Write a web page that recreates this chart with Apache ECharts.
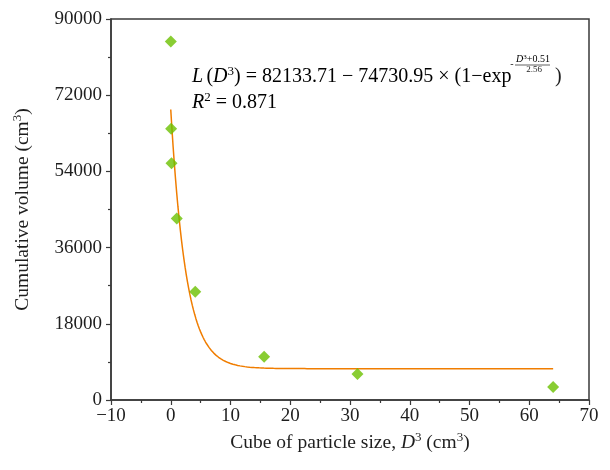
<!DOCTYPE html>
<html>
<head>
<meta charset="utf-8">
<script src="https://cdn.jsdelivr.net/npm/echarts@6/dist/echarts.min.js"></script>
<style>
  html, body { margin: 0; padding: 0; background: #fff; }
  #chart { width: 610px; height: 470px; }
</style>
</head>
<body>
<div id="chart"></div>
<script>
// Measured samples: cube of particle size (cm^3) vs cumulative volume (cm^3)
var cubeSize = [0.008, 0.064, 0.125, 1.0, 4.1, 15.625, 31.25, 64.0];
var cumVolume = [84700, 64100, 55900, 42900, 25600, 10200, 6150, 3050];

// Exponential fit parameters: L = a - b * (1 - exp(-(x + c) / t))
var fitA = 82133.71;
var fitB = 74730.95;
var fitC = 0.51;
var fitT = 2.56;
var fitRange = [0, 64];
var fitStep = 0.2;

// Axis ticks
var xTicks = { min: -10, max: 70, interval: 10 };
var yTicks = { min: 0, max: 90000, interval: 18000 };

var FONT = '"Liberation Serif", "Times New Roman", serif';
var AXIS_COLOR = '#3a3a3a';
var TEXT = '#1e1e1e';

var scatterData = cubeSize.map(function (x, i) { return [x, cumVolume[i]]; });

var fitData = [];
for (var x = fitRange[0]; x <= fitRange[1] + 1e-9; x += fitStep) {
  fitData.push([x, fitA - fitB * (1 - Math.exp(-(x + fitC) / fitT))]);
}

function richSet(size) {
  return {
    n: { fontFamily: FONT, fontSize: size, color: TEXT },
    i: { fontFamily: FONT, fontSize: size, color: TEXT, fontStyle: 'italic' },
    s: { fontFamily: FONT, fontSize: Math.round(size * 0.65), color: TEXT, padding: [0, 0, Math.round(size * 0.5), 0] }
  };
}

var chart = echarts.init(document.getElementById('chart'), null, { renderer: 'canvas' });

chart.setOption({
  animation: false,
  grid: {
    left: 111, right: 21, top: 19, bottom: 70,
    show: true, borderColor: AXIS_COLOR, borderWidth: 1.5
  },
  xAxis: {
    type: 'value',
    min: xTicks.min, max: xTicks.max, interval: xTicks.interval,
    axisLine: { onZero: false, lineStyle: { color: AXIS_COLOR, width: 1.5 } },
    axisTick: { length: 5, lineStyle: { color: AXIS_COLOR, width: 1.2 } },
    minorTick: { show: true, splitNumber: 2, length: 3, lineStyle: { color: AXIS_COLOR, width: 1.2 } },
    splitLine: { show: false },
    axisLabel: {
      fontFamily: FONT, fontSize: 19, color: TEXT, margin: 7,
      formatter: function (v) { return v < 0 ? '\u2212' + Math.abs(v) : String(v); }
    },
    name: '{n|Cube of particle size, }{i|D}{s|3}{n| (cm}{s|3}{n|)}',
    nameLocation: 'middle',
    nameGap: 27,
    nameTextStyle: { rich: richSet(19.5) }
  },
  yAxis: {
    type: 'value',
    min: yTicks.min, max: yTicks.max, interval: yTicks.interval,
    axisLine: { show: true, onZero: false, lineStyle: { color: AXIS_COLOR, width: 1.5 } },
    axisTick: { show: true, length: 5, lineStyle: { color: AXIS_COLOR, width: 1.2 } },
    minorTick: { show: true, splitNumber: 2, length: 3, lineStyle: { color: AXIS_COLOR, width: 1.2 } },
    splitLine: { show: false },
    axisLabel: {
      fontFamily: FONT, fontSize: 19, color: TEXT, margin: 9,
      formatter: function (v) { return String(v); }
    },
    name: '{n|Cumulative volume (cm}{s|3}{n|)}',
    nameLocation: 'middle',
    nameRotate: 90,
    nameGap: 77,
    nameTextStyle: { rich: richSet(19.5) }
  },
  series: [
    {
      name: 'fit',
      type: 'line',
      data: fitData,
      showSymbol: false,
      smooth: false,
      lineStyle: { color: '#f07d00', width: 1.5 },
      z: 2
    },
    {
      name: 'data',
      type: 'scatter',
      data: scatterData,
      symbol: 'diamond',
      symbolSize: [12, 12],
      itemStyle: { color: '#6cc000' },
      z: 3
    }
  ],
  graphic: [
    {
      type: 'text', x: 192, y: 77,
      style: {
        text: '{i|L} {n|(}{i|D}{s|3}{n|) = 82133.71 \u2212 74730.95 \u00d7 (1\u2212exp}',
        verticalAlign: 'middle',
        rich: richSet(20)
      }
    },
    { type: 'text', x: 512, y: 64, style: { text: '-', fontFamily: FONT, fontSize: 10, fill: TEXT, align: 'center', verticalAlign: 'middle' } },
    {
      type: 'text', x: 533, y: 59,
      style: {
        text: '{i|D}{s|3}{n|+0.51}',
        align: 'center', verticalAlign: 'middle',
        rich: {
          n: { fontFamily: FONT, fontSize: 10, color: TEXT },
          i: { fontFamily: FONT, fontSize: 10, color: TEXT, fontStyle: 'italic' },
          s: { fontFamily: FONT, fontSize: 7, color: TEXT, padding: [0, 0, 4, 0] }
        }
      }
    },
    { type: 'line', shape: { x1: 515, y1: 65, x2: 550, y2: 65 }, style: { stroke: TEXT, lineWidth: 0.7 } },
    { type: 'text', x: 534, y: 70, style: { text: '2.56', fontFamily: FONT, fontSize: 9, fill: TEXT, align: 'center', verticalAlign: 'middle' } },
    { type: 'text', x: 555, y: 77, style: { text: ')', fontFamily: FONT, fontSize: 20, fill: TEXT, verticalAlign: 'middle' } },
    {
      type: 'text', x: 192, y: 103,
      style: {
        text: '{i|R}{s|2}{n| = 0.871}',
        verticalAlign: 'middle',
        rich: richSet(20)
      }
    }
  ]
});
</script>
</body>
</html>
